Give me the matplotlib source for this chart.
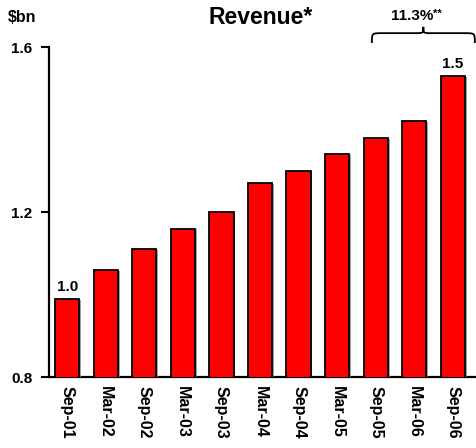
import matplotlib
matplotlib.use("Agg")
import matplotlib.pyplot as plt
from matplotlib.path import Path
from matplotlib.patches import PathPatch
from matplotlib import patheffects as pe
from matplotlib.transforms import blended_transform_factory

plt.rcParams['font.family'] = ['Liberation Sans', 'DejaVu Sans']

periods = ["Sep-01", "Mar-02", "Sep-02", "Mar-03", "Sep-03", "Mar-04",
           "Sep-04", "Mar-05", "Sep-05", "Mar-06", "Sep-06"]
revenue = [0.99, 1.06, 1.11, 1.16, 1.20, 1.27, 1.30, 1.34, 1.38, 1.42, 1.53]
y_ticks = [0.8, 1.2, 1.6]
labelled = {0: "1.0", 10: "1.5"}
growth_label = "11.3%"

fig = plt.figure(figsize=(4.76, 4.48), dpi=100)
ax = fig.add_axes([0.103, 0.158, 0.897, 0.737])

x = list(range(len(periods)))
bars = ax.bar(x, revenue, width=0.63, bottom=0, color="#ff0000",
              edgecolor="black", linewidth=1.3, zorder=3)
for b in bars:
    b.set_path_effects([pe.SimplePatchShadow(offset=(1.2, -0.6),
                                             shadow_rgbFace="#888888", alpha=0.8),
                        pe.Normal()])

ax.set_ylim(0.8, 1.6)
ax.set_xlim(-0.47, 10.6)
ax.set_yticks(y_ticks)
ax.set_yticklabels([f"{t:.1f}" for t in y_ticks], fontsize=11, fontweight="bold")
ax.set_xticks(x)
ax.set_xticklabels(periods, rotation=-90, fontsize=11.5, fontweight="bold")
ax.tick_params(axis="x", length=0, pad=6)
ax.tick_params(axis="y", length=6, width=1.5, direction="out", pad=6)

for s in ["top", "right"]:
    ax.spines[s].set_visible(False)
for s in ["left", "bottom"]:
    ax.spines[s].set_linewidth(1.6)

for i, txt in labelled.items():
    ax.text(i, revenue[i] + 0.012, txt, ha="center", va="bottom",
            fontsize=11, fontweight="bold")

fig.text(0.547, 0.960, "Revenue*", ha="center", va="center",
         fontsize=16.5, fontweight="bold")
fig.text(0.017, 0.962, "$bn", ha="left", va="center",
         fontsize=11.5, fontweight="bold")

# Curly brace over the last three periods
tr = blended_transform_factory(ax.transData, fig.transFigure)
x0, x1 = 7.9, 10.57
xm = (x0 + x1) / 2
yb, yt = 0.904, 0.940
ym = 0.926
r = 0.27
rt = 0.2
verts = [(x0, yb),
         (x0, ym), (x0, ym), (x0 + r, ym),
         (xm - rt, ym),
         (xm, ym), (xm, ym), (xm, yt),
         (xm, ym), (xm, ym), (xm + rt, ym),
         (x1 - r, ym),
         (x1, ym), (x1, ym), (x1, yb)]
codes = [Path.MOVETO,
         Path.CURVE4, Path.CURVE4, Path.CURVE4,
         Path.LINETO,
         Path.CURVE4, Path.CURVE4, Path.CURVE4,
         Path.CURVE4, Path.CURVE4, Path.CURVE4,
         Path.LINETO,
         Path.CURVE4, Path.CURVE4, Path.CURVE4]
brace = PathPatch(Path(verts, codes), transform=tr, fill=False,
                  edgecolor="black", linewidth=1.3, clip_on=False)
fig.patches.append(brace)
ax.text(xm + 0.25, 0.965, growth_label, transform=tr, ha="right", va="center",
        fontsize=11, fontweight="bold")
ax.text(xm + 0.26, 0.970, "**", transform=tr, ha="left", va="center",
        fontsize=8, fontweight="bold")

fig.savefig("out.png", dpi=100)
